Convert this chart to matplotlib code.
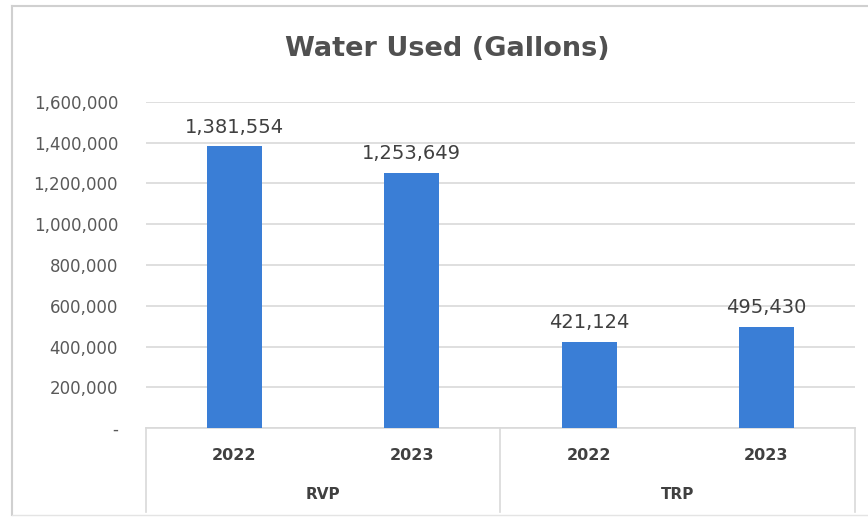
import matplotlib
matplotlib.use('Agg')
from matplotlib import pyplot as plt
from matplotlib.ticker import FuncFormatter

# water usage per site and year
sites = ['RVP', 'TRP']
years = ['2022', '2023']
gallons = [1381554, 1253649, 421124, 495430]
y_ticks = [0, 200000, 400000, 600000, 800000, 1000000, 1200000, 1400000, 1600000]

bar_color = '#3A7ED6'
text_color = '#595959'
grid_color = '#D9D9D9'

plt.rcParams['font.family'] = ['DejaVu Sans']

fig = plt.figure(figsize=(8.68, 5.19), dpi=100)
ax = fig.add_axes([0.168, 0.1753, 0.817, 0.6282])

x = list(range(len(gallons)))
bars = ax.bar(x, gallons, width=0.31, color=bar_color, zorder=3)

for xi, v in zip(x, gallons):
    ax.annotate(f'{v:,}', (xi, v), xytext=(0, 7), textcoords='offset points',
                ha='center', va='bottom', fontsize=14, color='#404040')

ax.set_xlim(-0.5, len(gallons) - 0.5)
ax.set_ylim(0, 1600000)
ax.set_yticks(y_ticks)
ax.yaxis.set_major_formatter(FuncFormatter(lambda v, p: '-' if v == 0 else f'{int(v):,}'))
ax.tick_params(axis='y', length=0, pad=20, labelsize=12, labelcolor=text_color)
ax.set_xticks([])
ax.grid(axis='y', color=grid_color, linewidth=1.2, zorder=0)
for s in ['top', 'right', 'left']:
    ax.spines[s].set_visible(False)
ax.spines['bottom'].set_color(grid_color)
ax.spines['bottom'].set_linewidth(1.2)

# two-level category axis: years, then sites
trans = ax.get_xaxis_transform()
labels_year = [y for s in sites for y in years]
for xi, lab in zip(x, labels_year):
    ax.text(xi, -0.083, lab, transform=trans, ha='center', va='center',
            fontsize=11.5, fontweight='bold', color='#404040')
for i, s in enumerate(sites):
    ax.text(i * 2 + 0.5, -0.205, s, transform=trans, ha='center', va='center',
            fontsize=11, fontweight='bold', color='#404040')
for xs in [-0.5, 1.5, 3.5]:
    ax.plot([xs, xs], [0, -0.258], transform=trans, color=grid_color,
            linewidth=1.2, clip_on=False)

fig.text(0.515, 0.905, 'Water Used (Gallons)', ha='center', va='center',
         fontsize=19.5, fontweight='bold', color='#505050')

# chart frame
fig.add_artist(plt.Line2D([0.014, 0.014], [0.008, 0.988], color='#D0D0D0', linewidth=1.5))
fig.add_artist(plt.Line2D([0.014, 1.0], [0.988, 0.988], color='#D0D0D0', linewidth=1.5))
fig.add_artist(plt.Line2D([0.014, 1.0], [0.008, 0.008], color='#E4E4E4', linewidth=1.0))

fig.savefig('out.png', dpi=100)
